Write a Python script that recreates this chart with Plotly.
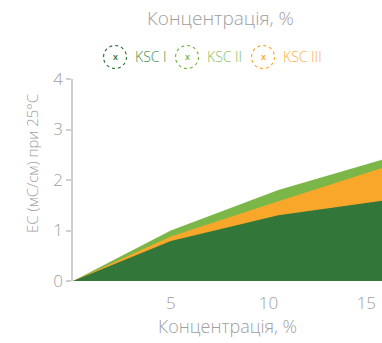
import plotly.graph_objects as go

# Concentration (%) and electrical conductivity (mS/cm at 25°C)
concentration = [0, 5, 10.5, 15.8]
ksc_1 = [0, 0.79, 1.30, 1.59]
ksc_2 = [0, 1.00, 1.80, 2.40]
ksc_3 = [0, 0.88, 1.58, 2.24]

series_names = ["KSC I", "KSC II", "KSC III"]
series_colors = ["#33763a", "#7ab648", "#f9a72b"]
legend_text_colors = ["#3f8c48", "#86c05a", "#f9b03f"]

x_ticks = [5, 10, 15]
y_ticks = [0, 1, 2, 3, 4]

FONT = "Open Sans"
GREY = "#a0a0a0"

fig = go.Figure()

# Draw largest area first so smaller ones stay visible on top
for name, vals, color in [
    (series_names[1], ksc_2, series_colors[1]),
    (series_names[2], ksc_3, series_colors[2]),
    (series_names[0], ksc_1, series_colors[0]),
]:
    fig.add_trace(go.Scatter(
        x=concentration, y=vals, name=name, mode="lines",
        line=dict(width=0, color=color), fill="tozeroy",
        fillcolor=color, showlegend=False, hoverinfo="x+y+name",
    ))

# Custom legend: dotted circles with a small "x" and a coloured label
legend_x = [0.136, 0.369, 0.615]
label_x = [0.194, 0.427, 0.673]
legend_y = 1.109
shapes = []
annotations = []
for i, name in enumerate(series_names):
    shapes.append(dict(
        type="circle", xref="paper", yref="paper",
        xsizemode="pixel", ysizemode="pixel",
        xanchor=legend_x[i], yanchor=legend_y,
        x0=-11.5, x1=11.5, y0=-11.5, y1=11.5,
        line=dict(color=series_colors[i], width=1.2, dash="dot"),
    ))
    annotations.append(dict(
        text="x", xref="paper", yref="paper", x=legend_x[i], y=legend_y,
        showarrow=False, xanchor="center", yanchor="middle",
        font=dict(family=FONT, size=9, color=series_colors[i], weight=600),
    ))
    annotations.append(dict(
        text=name, xref="paper", yref="paper", x=label_x[i], y=legend_y,
        showarrow=False, xanchor="left", yanchor="middle",
        font=dict(family=FONT, size=14, color=legend_text_colors[i], weight=300),
    ))

# Chart title above the legend
annotations.append(dict(
    text="Концентрація, %", xref="paper", yref="paper", x=0.476, y=1.302,
    showarrow=False, xanchor="center", yanchor="middle",
    font=dict(family=FONT, size=19, color=GREY, weight=300),
))

# Vertical axis title
annotations.append(dict(
    text="EC (мС/см) при 25°C", xref="paper", yref="paper", x=-0.133, y=0.584,
    showarrow=False, xanchor="center", yanchor="middle", textangle=-90,
    font=dict(family=FONT, size=15, color=GREY, weight=300),
))

fig.update_layout(
    width=382, height=343,
    margin=dict(l=73, r=0, t=79, b=62),
    paper_bgcolor="white", plot_bgcolor="white",
    font=dict(family=FONT, color=GREY, weight=300),
    shapes=shapes, annotations=annotations,
    xaxis=dict(
        range=[0, 15.8], tickvals=x_ticks, showgrid=False, zeroline=False,
        showline=False, ticks="", ticklabelstandoff=10,
        tickfont=dict(size=17, color=GREY, weight=300),
        title=dict(text="Концентрація, %", font=dict(size=18, color=GREY, weight=300), standoff=0),
    ),
    yaxis=dict(
        range=[0, 4], tickvals=y_ticks, showgrid=False, zeroline=False,
        showline=True, linecolor="#d0d0d0", linewidth=1.5,
        ticks="outside", ticklen=5, tickcolor="#d0d0d0", tickwidth=1.5,
        tickfont=dict(size=17, color=GREY, weight=300),
    ),
)

fig.write_html("out.html")
